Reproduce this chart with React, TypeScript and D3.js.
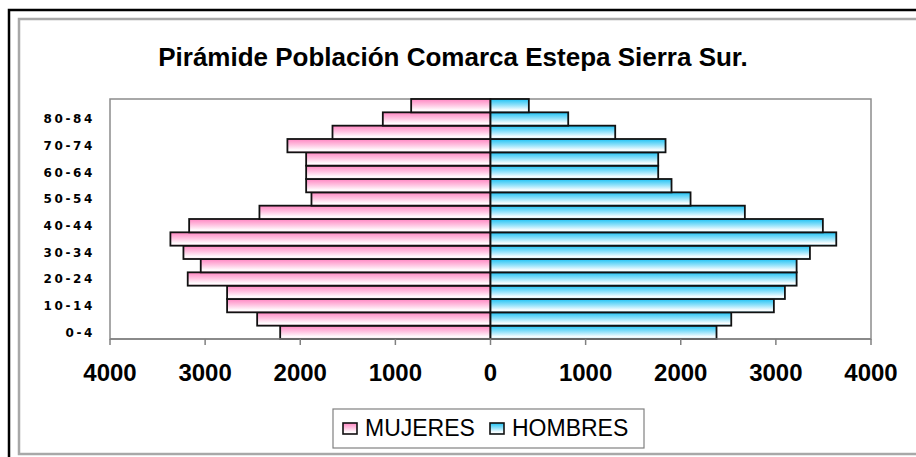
import React, { useRef, useEffect } from 'react'
import * as d3 from 'd3'

const ageGroups = ['0-4', '5-9', '10-14', '15-19', '20-24', '25-29', '30-34', '35-39', '40-44',
  '45-49', '50-54', '55-59', '60-64', '65-69', '70-74', '75-79', '80-84', '85+']
const mujeres = [2211, 2453, 2769, 2769, 3183, 3046, 3228, 3365, 3168, 2429, 1882, 1938, 1938, 1938, 2135, 1661, 1132, 834]
const hombres = [2376, 2531, 2979, 3095, 3218, 3218, 3358, 3635, 3494, 2674, 2103, 1903, 1763, 1763, 1840, 1311, 817, 403]
const shownLabels = ['0-4', '10-14', '20-24', '30-34', '40-44', '50-54', '60-64', '70-74', '80-84']
const xTicks = [-4000, -3000, -2000, -1000, 0, 1000, 2000, 3000, 4000]
const title = 'Pirámide Población Comarca Estepa Sierra Sur.'

const App = () => {
  const svgRef = useRef(null)

  useEffect(() => {
    const svg = d3.select(svgRef.current)
    svg.selectAll('*').remove()

    const plot = { left: 110, right: 871, top: 99, bottom: 339 }

    const x = d3.scaleLinear().domain([-4000, 4000]).range([plot.left, plot.right])
    const y = d3.scaleBand().domain(ageGroups).range([plot.bottom, plot.top]).padding(0)

    // gradients like the old excel fill
    const defs = svg.append('defs')
    const grad = (id, col) => {
      const g = defs.append('linearGradient').attr('id', id)
        .attr('x1', 0).attr('y1', 0).attr('x2', 0).attr('y2', 1)
      g.append('stop').attr('offset', '0%').attr('stop-color', col)
      g.append('stop').attr('offset', '45%').attr('stop-color', d3.interpolateRgb(col, '#fff')(0.5))
      g.append('stop').attr('offset', '85%').attr('stop-color', '#ffffff')
      g.append('stop').attr('offset', '100%').attr('stop-color', d3.interpolateRgb(col, '#fff')(0.6))
    }
    grad('pinkGrad', '#ff86c2')
    grad('blueGrad', '#1ec2f4')

    // frames
    svg.append('rect').attr('x', 9).attr('y', 10).attr('width', 1000).attr('height', 600)
      .attr('fill', '#fff').attr('stroke', '#000').attr('stroke-width', 2.5)
    svg.append('rect').attr('x', 19).attr('y', 19).attr('width', 1000).attr('height', 435)
      .attr('fill', '#fff').attr('stroke', '#a8a8a8').attr('stroke-width', 2.5)

    svg.append('text')
      .attr('x', 453).attr('y', 66)
      .attr('text-anchor', 'middle')
      .attr('font-family', 'Liberation Sans, Arial, sans-serif')
      .attr('font-weight', 'bold').attr('font-size', 26)
      .text(title)

    // plot area border
    svg.append('rect')
      .attr('x', plot.left).attr('y', plot.top)
      .attr('width', plot.right - plot.left).attr('height', plot.bottom - plot.top)
      .attr('fill', 'none').attr('stroke', '#8c8c8c').attr('stroke-width', 1.5)

    const bars = svg.append('g')
    bars.selectAll('.muj')
      .data(ageGroups)
      .enter().append('rect')
      .attr('x', (d, i) => x(-mujeres[i]))
      .attr('y', d => y(d))
      .attr('width', (d, i) => x(0) - x(-mujeres[i]))
      .attr('height', y.bandwidth())
      .attr('fill', 'url(#pinkGrad)')
      .attr('stroke', '#111').attr('stroke-width', 1.8)
    bars.selectAll('.hom')
      .data(ageGroups)
      .enter().append('rect')
      .attr('x', x(0))
      .attr('y', d => y(d))
      .attr('width', (d, i) => x(hombres[i]) - x(0))
      .attr('height', y.bandwidth())
      .attr('fill', 'url(#blueGrad)')
      .attr('stroke', '#111').attr('stroke-width', 1.8)

    // x axis
    const xAxis = svg.append('g')
    xAxis.append('line')
      .attr('x1', plot.left).attr('x2', plot.right)
      .attr('y1', plot.bottom).attr('y2', plot.bottom)
      .attr('stroke', '#808080').attr('stroke-width', 1.5)
    xAxis.selectAll('.tick')
      .data(xTicks)
      .enter().append('line')
      .attr('x1', d => x(d)).attr('x2', d => x(d))
      .attr('y1', plot.bottom).attr('y2', plot.bottom + 6)
      .attr('stroke', '#808080').attr('stroke-width', 1.5)
    xAxis.selectAll('.lbl')
      .data(xTicks)
      .enter().append('text')
      .attr('x', d => x(d)).attr('y', 381)
      .attr('text-anchor', 'middle')
      .attr('font-family', 'Liberation Sans, Arial, sans-serif')
      .attr('font-weight', 'bold').attr('font-size', 24)
      .text(d => Math.abs(d))

    // y labels
    svg.append('g').selectAll('text')
      .data(shownLabels)
      .enter().append('text')
      .attr('x', 95).attr('y', d => y(d) + y.bandwidth() / 2)
      .attr('dy', '0.36em')
      .attr('text-anchor', 'end')
      .attr('font-family', 'DejaVu Sans, sans-serif')
      .attr('font-weight', 'bold').attr('font-size', 12)
      .attr('letter-spacing', 2.6)
      .text(d => d)

    // legend
    const lg = svg.append('g')
    lg.append('rect').attr('x', 333).attr('y', 409).attr('width', 311).attr('height', 39)
      .attr('fill', '#fff').attr('stroke', '#808080').attr('stroke-width', 1.2)
    const items = [
      { name: 'MUJERES', fill: 'url(#pinkGrad)', sx: 343, tx: 365 },
      { name: 'HOMBRES', fill: 'url(#blueGrad)', sx: 490, tx: 512 }
    ]
    items.forEach(it => {
      lg.append('rect').attr('x', it.sx).attr('y', 423).attr('width', 14).attr('height', 11)
        .attr('fill', it.fill).attr('stroke', '#111').attr('stroke-width', 1.6)
      lg.append('text').attr('x', it.tx).attr('y', 436)
        .attr('font-family', 'Liberation Sans, Arial, sans-serif')
        .attr('font-size', 23)
        .text(it.name)
    })
  }, [])

  return (
    <div>
      <svg ref={svgRef} width={916} height={457}
        style={{ position: 'absolute', left: 0, top: 0, background: '#fff' }}></svg>
    </div>
  )
}

export default App
